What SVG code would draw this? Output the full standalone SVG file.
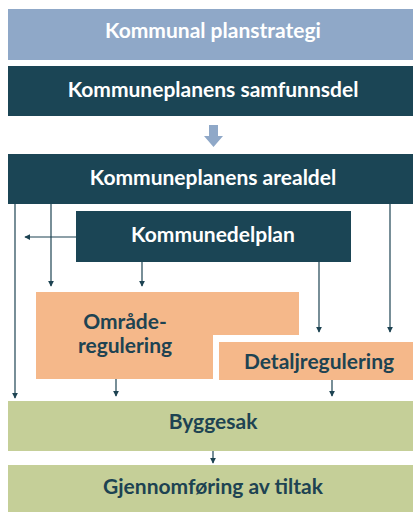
<svg xmlns="http://www.w3.org/2000/svg" width="413" height="512" viewBox="0 0 413 512">
<defs>
<style>
.t{font-family:Lato,"Open Sans","Liberation Sans",sans-serif;font-weight:700;text-anchor:middle;font-size:21px}
.w{fill:#ffffff}
.d{fill:#1d4352}
.dark{fill:#1b4555}
.or{fill:#f5b88a}
.gr{fill:#c5cf98}
.c{stroke:#1d4352;stroke-width:1.2;fill:none;marker-end:url(#ah)}
</style>
<marker id="ah" viewBox="0 0 8 8" refX="7" refY="4" markerWidth="6" markerHeight="6" markerUnits="userSpaceOnUse" orient="auto"><path d="M0,0 L8,4 L0,8 z" fill="#1d4352"/></marker>
</defs>
<rect width="413" height="512" fill="#ffffff"/>
<g id="planstrategi"><rect x="8" y="9" width="405" height="51" fill="#8fa8c8"/><text class="t w" x="213" y="38">Kommunal planstrategi</text></g>
<g id="samfunnsdel"><rect class="dark" x="8" y="66" width="405" height="50"/><text class="t w" x="213" y="97">Kommuneplanens samfunnsdel</text></g>
<g id="pil"><path d="M209,125 H218 V136 H223 L213.5,147 L204,136 H209 Z" fill="#8fa8c8"/></g>
<g id="arealdel"><rect class="dark" x="8" y="154" width="405" height="50"/><text class="t w" x="213" y="185">Kommuneplanens arealdel</text></g>
<g id="kommunedelplan"><rect class="dark" x="76" y="211" width="275" height="51"/><text class="t w" x="213" y="242">Kommunedelplan</text></g>
<g id="omraderegulering"><path class="or" d="M36,292 H299 V335 H213 V379 H36 Z"/><text class="t d" x="125" y="329">Område-</text><text class="t d" x="125" y="353">regulering</text></g>
<g id="detaljregulering"><rect class="or" x="219" y="342" width="194" height="38"/><text class="t d" x="319" y="369">Detaljregulering</text></g>
<g id="byggesak"><rect class="gr" x="8" y="401" width="405" height="50"/><text class="t d" x="213" y="429">Byggesak</text></g>
<g id="gjennomforing"><rect class="gr" x="8" y="465" width="405" height="47"/><text class="t d" x="213" y="494">Gjennomføring av tiltak</text></g>
<g id="connectors">
<path class="c" d="M15,204 V398"/>
<path class="c" d="M51,204 V286"/>
<path class="c" d="M76,237 H25"/>
<path class="c" d="M142,262 V286"/>
<path class="c" d="M319,262 V332"/>
<path class="c" d="M390,204 V332"/>
<path class="c" d="M116,379 V396"/>
<path class="c" d="M332,380 V396"/>
<path class="c" d="M213,451 V463"/>
</g>
</svg>
